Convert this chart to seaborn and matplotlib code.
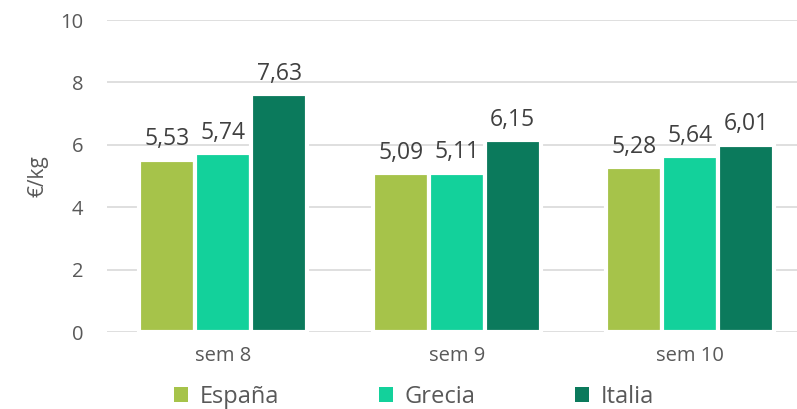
import pandas as pd
import matplotlib.pyplot as plt
import seaborn as sns

weeks = ["sem 8", "sem 9", "sem 10"]
countries = ["España", "Grecia", "Italia"]
espana = [5.53, 5.09, 5.28]
grecia = [5.74, 5.11, 5.64]
italia = [7.63, 6.15, 6.01]
colors = ["#A6C34A", "#13D19B", "#0B7A5C"]

df = pd.DataFrame({
    "semana": weeks * 3,
    "pais": [c for c in countries for _ in weeks],
    "precio": espana + grecia + italia,
})

sns.set_style("white")
plt.rcParams["font.family"] = ["Open Sans", "DejaVu Sans"]

fig = plt.figure(figsize=(7.97, 4.09), dpi=100)
# plot area runs a bit past the right edge, like the original crop
ax = fig.add_axes([0.134, 0.188, 0.878, 0.763])

sns.barplot(data=df, x="semana", y="precio", hue="pais", palette=colors,
            width=0.72, edgecolor="white", linewidth=3, saturation=1,
            errorbar=None, ax=ax)

for cont in ax.containers:
    ax.bar_label(cont, labels=[f"{v:.2f}".replace(".", ",") for v in cont.datavalues],
                 padding=6, fontsize=16.5, color="#404040")

ax.set_ylim(0, 10)
ax.set_yticks(range(0, 11, 2))
ax.yaxis.grid(True, color="#d9d9d9", linewidth=1.2)
ax.set_axisbelow(True)
for s in ax.spines.values():
    s.set_visible(False)
ax.tick_params(axis="both", length=0, labelsize=14.5, colors="#595959", pad=10)
ax.tick_params(axis="y", pad=17)
ax.set_xlabel("")
ax.set_ylabel("€/kg", fontsize=15, color="#595959", labelpad=8)
ax.set_xlim(-0.5, 2.5)

leg = ax.legend(loc="center left", bbox_to_anchor=(174 / 797, 1 - 397 / 409),
                bbox_transform=fig.transFigure, borderaxespad=0, borderpad=0,
                ncol=3, frameon=False, fontsize=17, handlelength=0.6, handleheight=0.6,
                handletextpad=0.5, columnspacing=4.2, labelcolor="#595959")
for h in leg.legend_handles:
    h.set_linewidth(0)

fig.savefig("out.png", dpi=100)
